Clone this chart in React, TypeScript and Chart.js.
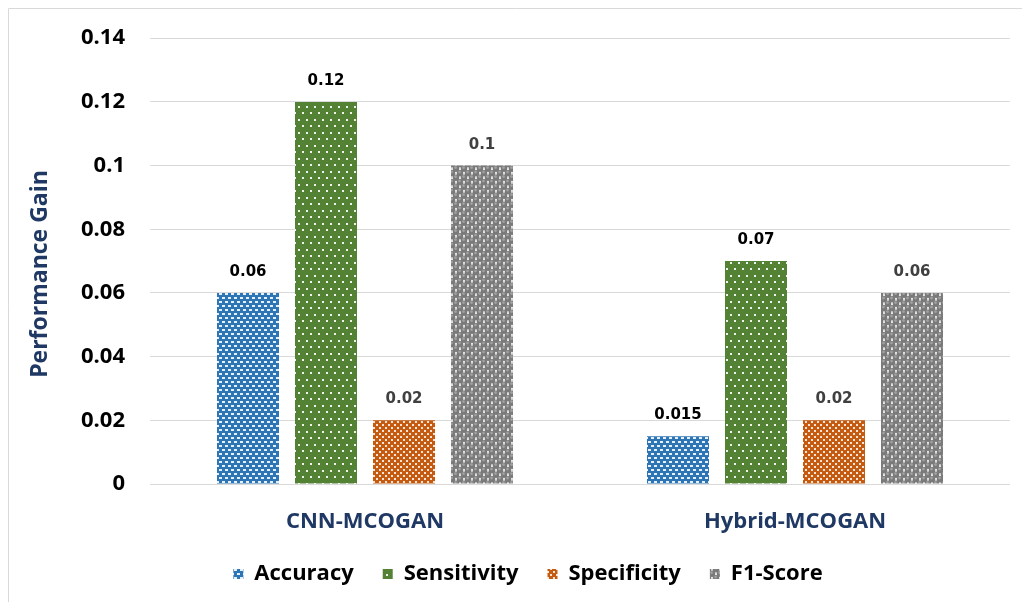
import React, { useEffect, useRef } from "react";
import { Chart, registerables } from "chart.js";

Chart.register(...registerables);

// Performance gain per model variant
const categories = ["CNN-MCOGAN", "Hybrid-MCOGAN"];
const seriesNames = ["Accuracy", "Sensitivity", "Specificity", "F1-Score"];
const accuracy = [0.06, 0.015];
const sensitivity = [0.12, 0.07];
const specificity = [0.02, 0.02];
const f1Score = [0.1, 0.06];
const yTicks = [0, 0.02, 0.04, 0.06, 0.08, 0.1, 0.12, 0.14];
const yTitle = "Performance Gain";

const FONT = "'Open Sans', 'Liberation Sans', sans-serif";
const LABEL_FONT = "'DejaVu Sans', Verdana, sans-serif";
const NAVY = "#1F3864";

type Painter = (ctx: CanvasRenderingContext2D) => void;

function makePattern(w: number, h: number, paint: Painter): CanvasPattern | string {
  const c = document.createElement("canvas");
  c.width = w;
  c.height = h;
  const ctx = c.getContext("2d");
  if (!ctx) return "#888";
  paint(ctx);
  return ctx.createPattern(c, "repeat") || "#888";
}

// Blue with staggered short white dashes
const accuracyFill = () =>
  makePattern(6, 8, (ctx) => {
    ctx.fillStyle = "#2E75B6";
    ctx.fillRect(0, 0, 6, 8);
    ctx.fillStyle = "#E6F0FA";
    ctx.fillRect(0, 1, 3, 2);
    ctx.fillRect(3, 5, 3, 2);
  });

// Green with sparse white dots
const sensitivityFill = () =>
  makePattern(8, 13, (ctx) => {
    ctx.fillStyle = "#548235";
    ctx.fillRect(0, 0, 8, 13);
    ctx.fillStyle = "#EEF2EA";
    ctx.fillRect(2, 2, 2, 2);
    ctx.fillRect(6, 8, 2, 2);
  });

// Orange with denser white dots
const specificityFill = () =>
  makePattern(6, 6, (ctx) => {
    ctx.fillStyle = "#C55A11";
    ctx.fillRect(0, 0, 6, 6);
    ctx.fillStyle = "#F8E4D6";
    ctx.fillRect(1, 1, 2, 2);
    ctx.fillRect(4, 4, 2, 2);
  });

// Grey spheres on white
const f1Fill = () =>
  makePattern(8, 9, (ctx) => {
    ctx.fillStyle = "#FFFFFF";
    ctx.fillRect(0, 0, 8, 9);
    const ball = (x: number, y: number) => {
      ctx.fillStyle = "#7A7A7A";
      ctx.beginPath();
      ctx.arc(x, y, 3.3, 0, Math.PI * 2);
      ctx.fill();
      ctx.fillStyle = "#A0A0A0";
      ctx.beginPath();
      ctx.arc(x - 0.5, y - 1.2, 1.4, 0, Math.PI * 2);
      ctx.fill();
    };
    ball(4, 2.25);
    ball(0, 6.75);
    ball(8, 6.75);
    ball(4, 11.25);
    ball(0, -2.25);
    ball(8, -2.25);
  });

// Light chart-area frame along the top and left edges
const frame = {
  id: "frame",
  beforeDraw(chart: Chart) {
    const { ctx, width, height } = chart;
    ctx.save();
    ctx.strokeStyle = "#D9D9D9";
    ctx.lineWidth = 1;
    ctx.beginPath();
    ctx.moveTo(8.5, height);
    ctx.lineTo(8.5, 8.5);
    ctx.lineTo(width, 8.5);
    ctx.stroke();
    ctx.restore();
  },
};

// Nudge the legend row to the right and draw the rotated axis title
const extras = {
  id: "extras",
  afterLayout(chart: any) {
    const lg = chart.legend;
    if (lg) {
      lg.left += 19;
      lg.right += 19;
    }
  },
  afterDraw(chart: Chart) {
    const { ctx } = chart;
    ctx.save();
    ctx.translate(40, 274);
    ctx.rotate(-Math.PI / 2);
    ctx.font = `bold 23px ${FONT}`;
    ctx.fillStyle = NAVY;
    ctx.textAlign = "center";
    ctx.textBaseline = "middle";
    ctx.fillText(yTitle, 0, 0);
    ctx.restore();
  },
};

const valueLabels = {
  id: "valueLabels",
  afterDatasetsDraw(chart: Chart) {
    const { ctx } = chart;
    ctx.save();
    ctx.font = `bold 15px ${LABEL_FONT}`;
    ctx.textAlign = "center";
    ctx.textBaseline = "alphabetic";
    chart.data.datasets.forEach((ds, di) => {
      const meta = chart.getDatasetMeta(di);
      ctx.fillStyle = di < 2 ? "#000000" : "#404040";
      meta.data.forEach((el: any, i: number) => {
        const v = ds.data[i] as number;
        ctx.fillText(String(v), el.x, el.y - 17);
      });
    });
    ctx.restore();
  },
};

export default function App() {
  const ref = useRef<HTMLCanvasElement | null>(null);

  useEffect(() => {
    if (!ref.current) return;
    const fills = [accuracyFill(), sensitivityFill(), specificityFill(), f1Fill()];
    const values = [accuracy, sensitivity, specificity, f1Score];
    const chart = new Chart(ref.current, {
      type: "bar",
      data: {
        labels: categories,
        datasets: seriesNames.map((name, i) => ({
          label: name,
          data: values[i],
          backgroundColor: fills[i] as any,
          borderWidth: 0,
          categoryPercentage: 0.7256,
          barPercentage: 0.795,
        })),
      },
      options: {
        animation: false,
        responsive: false,
        devicePixelRatio: 1,
        layout: { padding: { left: 8, right: 12, top: 37, bottom: 7 } },
        plugins: {
          tooltip: { enabled: false },
          legend: {
            position: "bottom",
            labels: {
              font: { family: FONT, size: 22, weight: "bold" },
              color: "#000000",
              boxWidth: 10,
              boxHeight: 10,
              padding: 29,
            },
          },
        },
        scales: {
          x: {
            grid: { display: false, drawTicks: false },
            border: { display: false },
            ticks: {
              font: { family: FONT, size: 22, weight: "bold" },
              color: NAVY,
              padding: 25,
            },
            afterFit: (scale: any) => {
              scale.height = 50;
            },
          },
          y: {
            min: yTicks[0],
            max: yTicks[yTicks.length - 1],
            grid: { color: "#D9D9D9", drawTicks: false },
            border: { display: false },
            afterBuildTicks: (scale: any) => {
              scale.ticks = yTicks.map((v) => ({ value: v }));
            },
            ticks: {
              font: { family: FONT, size: 22, weight: "bold" },
              color: "#000000",
              padding: 25,
              callback: (v: any) => String(Number(Number(v).toFixed(3))),
            },
            afterFit: (scale: any) => {
              scale.width = 142;
            },
          },
        },
      },
      plugins: [frame, extras, valueLabels],
    });
    return () => chart.destroy();
  }, []);

  return (
    <div style={{ position: "fixed", left: 0, top: 0, width: 1022, height: 602, background: "#fff" }}>
      <canvas ref={ref} width={1022} height={602} />
    </div>
  );
}
